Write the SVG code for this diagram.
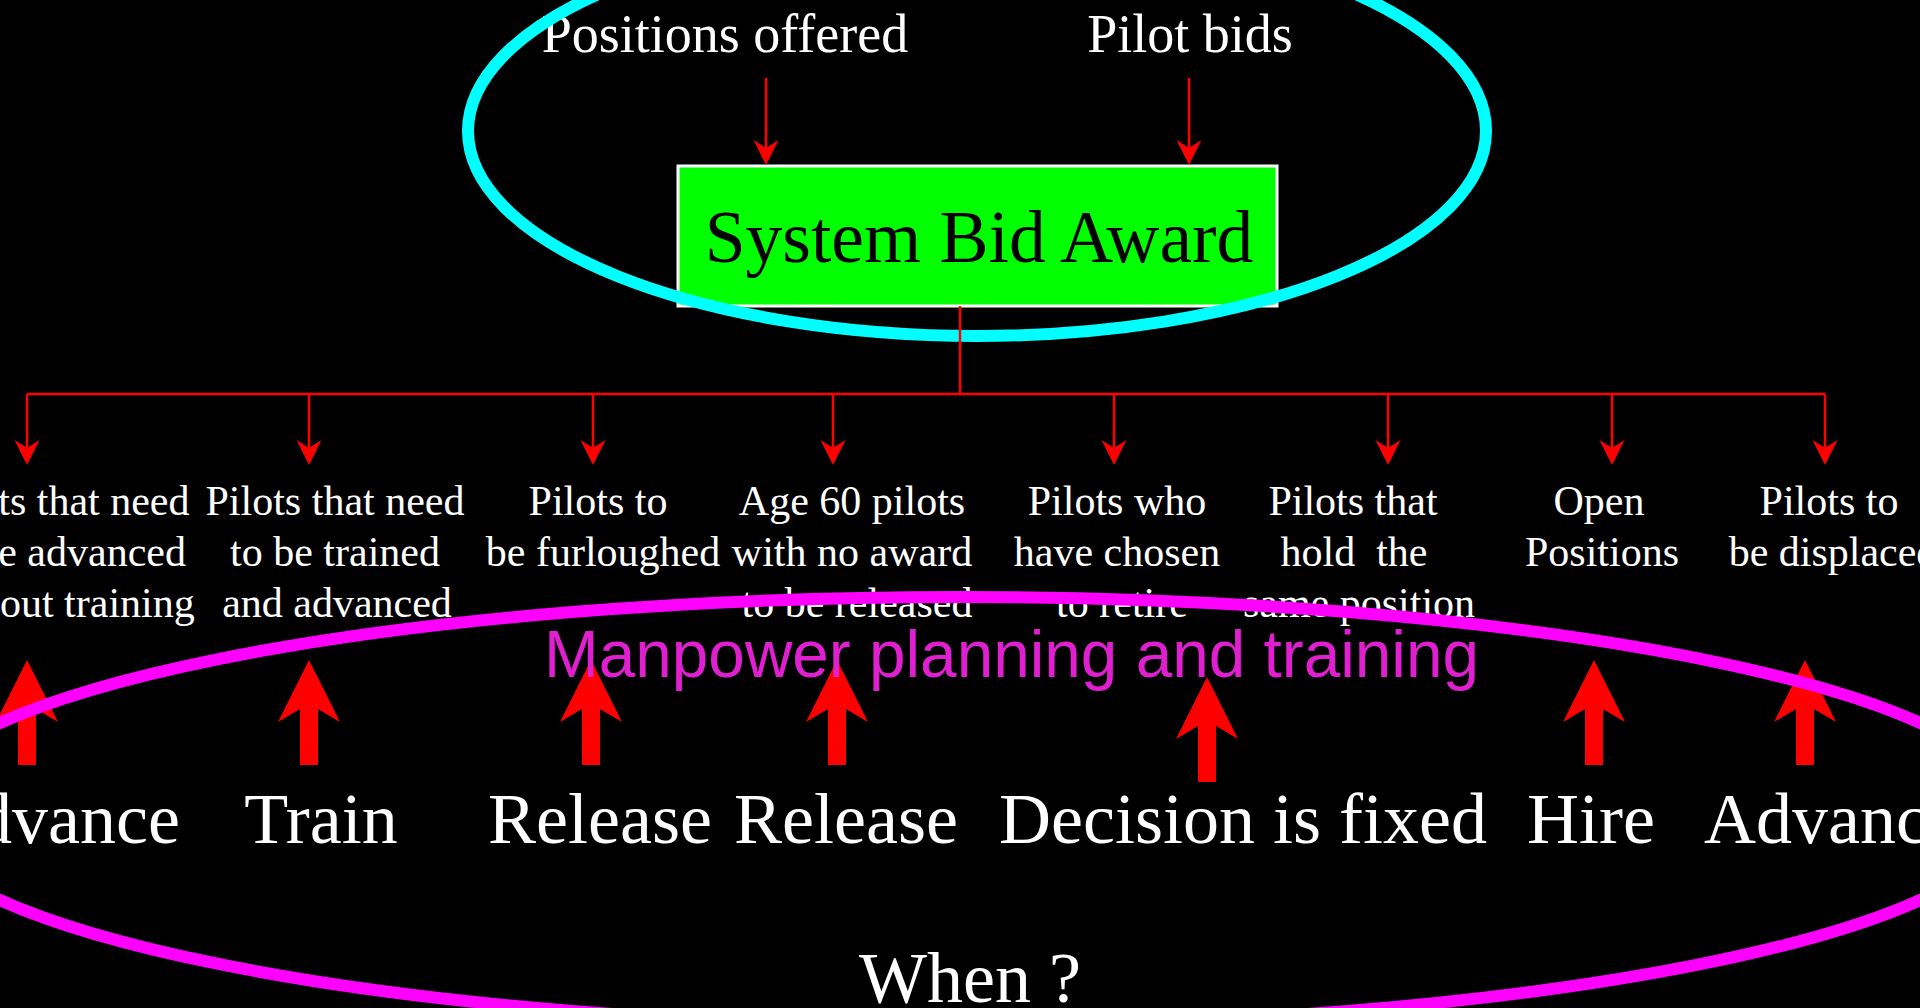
<svg xmlns="http://www.w3.org/2000/svg" width="1920" height="1008" viewBox="0 0 1920 1008">
  <style>
    .serif { font-family: "Liberation Serif", "Times New Roman", serif; fill: #ffffff; text-anchor: middle; }
    .top { font-size: 54px; }
    .lbl { font-size: 42px; }
    .act { font-size: 72px; }
    .wire { stroke: #ff0000; stroke-width: 2.5; fill: none; }
    .arrow { stroke: #ff0000; stroke-width: 2.5; fill: none; marker-end: url(#head); }
    .ring { fill: none; }
  </style>
  <defs>
    <!-- notched red arrowhead for the thin connectors; tip sits 10px past the line end -->
    <marker id="head" markerUnits="userSpaceOnUse" markerWidth="40" markerHeight="40" refX="0" refY="0" orient="auto" overflow="visible">
      <path d="M10,0 L-15,-12.5 L-7,0 L-15,12.5 Z" fill="#ff0000"/>
    </marker>
    <!-- thick block arrow pointing up, tip at origin -->
    <path id="uparrow" d="M0,0 L31,62 L9,49 L9,105 L-9,105 L-9,49 L-31,62 Z" fill="#ff0000"/>
  </defs>

  <rect x="0" y="0" width="1920" height="1008" fill="#000000"/>

  <!-- inputs to the bid award -->
  <g id="positions-offered">
    <text class="serif top" x="725" y="52">Positions offered</text>
  </g>
  <g id="pilot-bids">
    <text class="serif top" x="1190" y="52">Pilot bids</text>
  </g>

  <!-- central award box -->
  <g id="system-bid-award">
    <rect x="678" y="166" width="599" height="140" fill="#00ff00" stroke="#ffffff" stroke-width="3"/>
    <text x="979" y="262" font-family="'Liberation Serif', 'Times New Roman', serif" font-size="73.5" fill="#000000" text-anchor="middle">System Bid Award</text>
  </g>

  <!-- bid process boundary -->
  <g id="bid-ellipse">
    <ellipse class="ring" cx="977" cy="131" rx="509" ry="205" stroke="#00ffff" stroke-width="12"/>
  </g>

  <g id="connectors">
    <line class="arrow" x1="766" y1="78" x2="766" y2="155"/>
    <line class="arrow" x1="1189" y1="78" x2="1189" y2="155"/>
    <line class="wire" x1="960" y1="306" x2="960" y2="394"/>
    <line class="wire" x1="27" y1="394" x2="1825" y2="394"/>
    <line class="arrow" x1="27" y1="394" x2="27" y2="455"/>
    <line class="arrow" x1="309" y1="394" x2="309" y2="455"/>
    <line class="arrow" x1="593" y1="394" x2="593" y2="455"/>
    <line class="arrow" x1="833" y1="394" x2="833" y2="455"/>
    <line class="arrow" x1="1114" y1="394" x2="1114" y2="455"/>
    <line class="arrow" x1="1388" y1="394" x2="1388" y2="455"/>
    <line class="arrow" x1="1612" y1="394" x2="1612" y2="455"/>
    <line class="arrow" x1="1825" y1="394" x2="1825" y2="455"/>
    <!-- feedback arrows from the planning actions -->
    <use href="#uparrow" x="27" y="660"/>
    <use href="#uparrow" x="309" y="660"/>
    <use href="#uparrow" x="591" y="660"/>
    <use href="#uparrow" x="837" y="660"/>
    <use href="#uparrow" x="1207" y="677"/>
    <use href="#uparrow" x="1594" y="660"/>
    <use href="#uparrow" x="1805" y="660"/>
  </g>

  <!-- award outcome categories -->
  <g id="advance-no-training">
    <text class="serif lbl" x="60" y="515">Pilots that need</text>
    <text class="serif lbl" x="60" y="566">to be advanced</text>
    <text class="serif lbl" x="60" y="617">without training</text>
  </g>
  <g id="train-and-advance">
    <text class="serif lbl" x="335" y="515">Pilots that need</text>
    <text class="serif lbl" x="335" y="566">to be trained</text>
    <text class="serif lbl" x="337" y="617">and advanced</text>
  </g>
  <g id="furloughed">
    <text class="serif lbl" x="598" y="515">Pilots to</text>
    <text class="serif lbl" x="603" y="566">be furloughed</text>
  </g>
  <g id="age-60">
    <text class="serif lbl" x="852" y="515">Age 60 pilots</text>
    <text class="serif lbl" x="852" y="566">with no award</text>
    <text class="serif lbl" x="857" y="617">to be released</text>
  </g>
  <g id="retire">
    <text class="serif lbl" x="1117" y="515">Pilots who</text>
    <text class="serif lbl" x="1117" y="566">have chosen</text>
    <text class="serif lbl" x="1122" y="617">to retire</text>
  </g>
  <g id="same-position">
    <text class="serif lbl" x="1353" y="515">Pilots that</text>
    <text class="serif lbl" x="1354" y="566" xml:space="preserve">hold  the</text>
    <text class="serif lbl" x="1359" y="617">same position</text>
  </g>
  <g id="open-positions">
    <text class="serif lbl" x="1599" y="515">Open</text>
    <text class="serif lbl" x="1602" y="566">Positions</text>
  </g>
  <g id="displaced">
    <text class="serif lbl" x="1829" y="515">Pilots to</text>
    <text class="serif lbl" x="1833" y="566">be displaced</text>
  </g>

  <!-- planning area title -->
  <g id="manpower-title">
    <text x="544" y="677" font-family="'Liberation Sans', Arial, sans-serif" font-size="66" fill="#e020d0" textLength="935" lengthAdjust="spacingAndGlyphs">Manpower planning and training</text>
  </g>

  <!-- planning actions -->
  <g id="act-advance-left"><text class="serif act" x="52" y="843">Advance</text></g>
  <g id="act-train"><text class="serif act" x="321" y="843">Train</text></g>
  <g id="act-release-1"><text class="serif act" x="600" y="843">Release</text></g>
  <g id="act-release-2"><text class="serif act" x="846" y="843">Release</text></g>
  <g id="act-decision"><text class="serif act" x="1243" y="843">Decision is fixed</text></g>
  <g id="act-hire"><text class="serif act" x="1591" y="843">Hire</text></g>
  <g id="act-advance-right"><text class="serif act" x="1832" y="843">Advance</text></g>
  <g id="when"><text class="serif act" x="970" y="1002">When ?</text></g>

  <!-- planning boundary -->
  <g id="planning-ellipse">
    <ellipse class="ring" cx="960" cy="811.5" rx="1054" ry="214.5" stroke="#ff00ff" stroke-width="12"/>
  </g>
</svg>
